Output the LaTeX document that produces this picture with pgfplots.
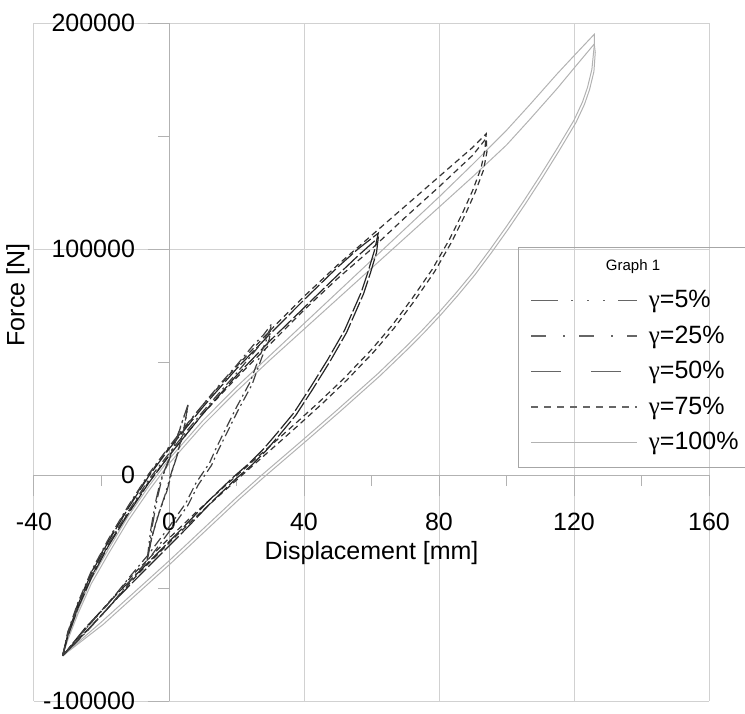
\documentclass[border=0pt]{standalone}
\usepackage{fontspec}
\setmainfont{Liberation Sans}
\newfontfamily\gfont{Liberation Serif}
\usepackage{pgfplots}
\pgfplotsset{compat=1.18}

% plot line styles
\pgfplotsset{
  p5/.style={black!75, line width=0.6pt, dash pattern=on 7pt off 2pt on 1pt off 2pt on 1pt off 2pt},
  p25/.style={black!75, line width=0.6pt, dash pattern=on 5pt off 2pt on 1pt off 2pt},
  p50/.style={black!85, line width=0.6pt, dash pattern=on 10pt off 1.5pt},
  p75/.style={black!80, line width=0.6pt, dash pattern=on 3pt off 2pt},
  p100/.style={black!30, line width=0.5pt},
  % legend samples
  l5/.style={black!60, line width=0.7pt, dash pattern=on 13.5pt off 6.5pt on 1pt off 7pt on 1pt off 7pt on 1pt off 6.5pt},
  l25/.style={black!60, line width=0.7pt, dash pattern=on 7.5pt off 8.5pt on 1pt off 7pt},
  l50/.style={black!60, line width=0.7pt, dash pattern=on 15pt off 15pt},
  l75/.style={black!60, line width=0.7pt, dash pattern=on 3.5pt off 3pt},
  l100/.style={black!30, line width=0.5pt},
}

\begin{document}
\begin{tikzpicture}
\useasboundingbox (-17pt,-6pt) rectangle (355.5pt,350.5pt);
\begin{axis}[
  scale only axis, width=337.5pt, height=339pt,
  xmin=-40, xmax=160, ymin=-100000, ymax=200000,
  axis lines=middle, axis line style={-, draw=black!30},
  xtick={-40,0,...,160}, ytick={-100000,0,100000,200000},
  minor x tick num=1, minor y tick num=1,
  grid=major, major grid style={black!18, line width=0.5pt},
  tick align=outside, major tick length=10.5pt, minor tick length=5.5pt,
  tick style={black!30, line width=0.5pt},
  hide obscured x ticks=false, hide obscured y ticks=false,
  scaled y ticks=false,
  /pgf/number format/assume math mode=true,
  yticklabel style={/pgf/number format/fixed, /pgf/number format/set thousands separator={}, xshift=-3pt},
  xticklabel style={yshift=-5pt},
  tick label style={font=\fontsize{12.5}{15}\selectfont},
  every axis x label/.style={at={(axis description cs:0.5,0.2183)}, anchor=center, font=\fontsize{12.5}{15}\selectfont},
  every axis y label/.style={at={(axis description cs:-0.0237,0.599)}, anchor=center, rotate=90, font=\fontsize{12.5}{15}\selectfont},
  xlabel={Displacement [mm]}, ylabel={Force [N]},
  clip=false,
  legend image code/.code={\draw[#1] (0pt,0pt) -- (53pt,0pt);},
  legend cell align=left,
  legend style={at={(axis cs:107,85300)}, anchor=north west, draw=none, fill=none,
    inner sep=0pt, row sep=0pt, column sep=5.5pt,
    font=\fontsize{12.5}{15}\selectfont,
    nodes={inner sep=0pt, minimum height=17.75pt}},
]

% gamma = 100%
\addplot[p100, forget plot] coordinates {
(-31.5,-80000) (-30,-72000) (-27,-60000) (-23,-46000) (-18,-33000) (-12,-18000) (-6,-5000) (0,7000)
(10,24000) (20,39000) (30,53000) (40,67000) (50,81000) (60,95000) (70,109000) (80,123000) (90,137500)
(100,152500) (107,164000) (115,177500) (120,185500) (126,195000)
(126,190000) (125.3,179500) (124,171500) (122.5,165000) (120,157000) (115,144500) (110,132500)
(105,121000) (100,110000) (95,99500) (90,89500) (85,80500) (80,72000) (75,64000) (70,56500) (62,45000)
(50,29000) (40,16000) (27.5,0) (20,-10000) (10,-24000) (0,-38000) (-10,-51500) (-20,-65000) (-31.5,-80000)};
\addplot[p100, forget plot] coordinates {
(-31.5,-80000) (-30,-73000) (-27,-61500) (-23,-48000) (-18,-35000) (-12,-20000) (-6,-7000) (0,5000)
(10,22000) (20,37000) (30,51000) (40,64500) (50,78000) (60,91500) (70,105000) (80,118500) (90,132000)
(100,146000) (107,157500) (115,171000) (120,180000) (126,190700)
(126.3,187000) (125.9,178500) (124.6,170500) (123.1,164000) (120.6,156000) (115.6,143500) (110.6,131500)
(105.6,120000) (100.6,109000) (95.6,98500) (90.6,88500) (85.6,79500) (80.6,71000) (75.6,63000) (70.6,55500) (62.6,44000)
(50.6,28000) (40.6,15000) (28.1,-1000) (20.6,-11000) (10.6,-25000) (0.6,-39000) (-9.4,-52500) (-19.4,-66000) (-31.5,-80000)};

% gamma = 75%
\addplot[p75, forget plot] coordinates {
(-31.5,-80000) (-30,-70000) (-27,-57000) (-23,-43000) (-18,-29000) (-12,-14000) (-6,0) (0,12000)
(10,31000) (20,48000) (30,64000) (40,79000) (50,93000) (60,106000) (70,119000) (80,132000) (90,145000) (94,151000)
(93.6,144000) (92.5,136000) (90,126000) (87,116000) (83,104000) (78,91000) (72,78000) (66,66000) (60,55500)
(52,43000) (45,33000) (38,23500) (32,15500) (24,5000) (15,-7000) (8,-16500) (0,-28000)
(-10,-43000) (-20,-60000) (-31.5,-80000)};
\addplot[p75, forget plot] coordinates {
(-31.5,-80000) (-30,-71000) (-27,-58500) (-23,-45000) (-18,-31000) (-12,-16500) (-6,-3000) (0,8500)
(10,27000) (20,43000) (30,58000) (40,73000) (50,87000) (60,100000) (70,114000) (80,127500) (90,141500) (94,149000)
(94.2,143000) (93.2,135000) (90.7,125000) (87.7,115000) (83.7,103000) (78.7,90000) (72.7,77000) (66.7,65000) (60.7,54500)
(52.7,42000) (45.7,32000) (38.7,22500) (32.7,14500) (24.7,4000) (15.7,-8000) (8.7,-17500) (0.7,-29000)
(-9.3,-44000) (-19.3,-61000) (-31.5,-80000)};

% gamma = 50%
\addplot[p50, forget plot] coordinates {
(-31.5,-80000) (-30,-70500) (-27,-57500) (-23,-43500) (-18,-29500) (-12,-14500) (-6,-500) (0,11500)
(10,30000) (20,47000) (30,62500) (40,77500) (50,92000) (56,100000) (62,107000)
(61,100000) (59,90000) (57,81000) (52,64000) (47,51000) (42,39000) (37,27500) (32,18500) (28,11500)
(24,5500) (19,-1000) (12,-11000) (5,-22000) (-5,-37000) (-15,-52000) (-25,-68000) (-31.5,-80000)};
\addplot[p50, forget plot] coordinates {
(-31.5,-80000) (-30,-71500) (-27,-59000) (-23,-45500) (-18,-31500) (-12,-17000) (-6,-3500) (0,8500)
(10,27000) (20,44000) (30,59500) (40,74000) (50,88500) (56,97000) (62,105000)
(61.5,98500) (59.6,89000) (57.6,80000) (52.6,63000) (47.6,50000) (42.6,38000) (37.6,26500) (32.6,17500) (28.6,10500)
(24.6,4500) (19.6,-2000) (12.6,-12000) (5.6,-23000) (-4.4,-38000) (-14.4,-53000) (-24.4,-69000) (-31.5,-80000)};

% gamma = 25%
\addplot[p25, forget plot] coordinates {
(-31.5,-80000) (-30,-69500) (-27,-56500) (-23,-42500) (-18,-28500) (-12,-13500) (-6,500) (0,12500)
(5,22000) (10,31000) (15,40000) (20,48500) (25,57500) (28,62000) (30.5,67000)
(29.5,62000) (27,53000) (24,41000) (20,30000) (17,21000) (14,12000) (12,5300) (8,-3500) (5,-12400)
(0,-23000) (-6,-35000) (-11.6,-45000) (-18,-57000) (-25,-68500) (-31.5,-80000)};
\addplot[p25, forget plot] coordinates {
(-31.5,-80000) (-30,-70500) (-27,-58000) (-23,-44500) (-18,-30500) (-12,-16000) (-6,-2000) (0,9500)
(5,19000) (10,28000) (15,36500) (20,45000) (25,54000) (28,59500) (30.2,65000)
(29.7,60000) (27.5,52000) (24.6,40000) (20.6,29000) (17.6,20000) (14.6,11000) (12.6,4300) (8.6,-4500) (5.6,-13400)
(0.6,-24000) (-5.4,-36000) (-11,-46000) (-17.5,-58000) (-24.5,-69500) (-31.5,-80000)};

% gamma = 5%
\addplot[p5, forget plot] coordinates {
(-6.5,-38000) (-5.5,-25000) (-4,-12000) (-2.5,-2500) (0,7000) (2,15000) (4,24000) (5.6,31000)
(5,25000) (4,17000) (2.7,10000) (1,2000) (-0.6,-7000) (-3,-17000) (-5,-27000) (-6.5,-38000)};
\addplot[p5, forget plot] coordinates {
(-6.2,-36000) (-5,-23000) (-3.5,-10500) (-2,-1000) (0.5,8500) (2.5,17000) (4.5,26000) (5.4,29000)
(4.6,22000) (3.5,15000) (2.2,8000) (0.5,0) (-1.2,-9000) (-3.5,-19000) (-5.3,-29000) (-6.2,-36000)};

% legend
\addlegendimage{l5}\addlegendentry{{\gfont γ}=5\%}
\addlegendimage{l25}\addlegendentry{{\gfont γ}=25\%}
\addlegendimage{l50}\addlegendentry{{\gfont γ}=50\%}
\addlegendimage{l75}\addlegendentry{{\gfont γ}=75\%}
\addlegendimage{l100}\addlegendentry{{\gfont γ}=100\%}

\draw[black!35, line width=0.5pt] (axis cs:103.7,100500) rectangle (axis cs:178,3100);
\node[font=\fontsize{7.5}{9}\selectfont] at (axis cs:137.5,92000) {Graph 1};
\end{axis}
\end{tikzpicture}
\end{document}
